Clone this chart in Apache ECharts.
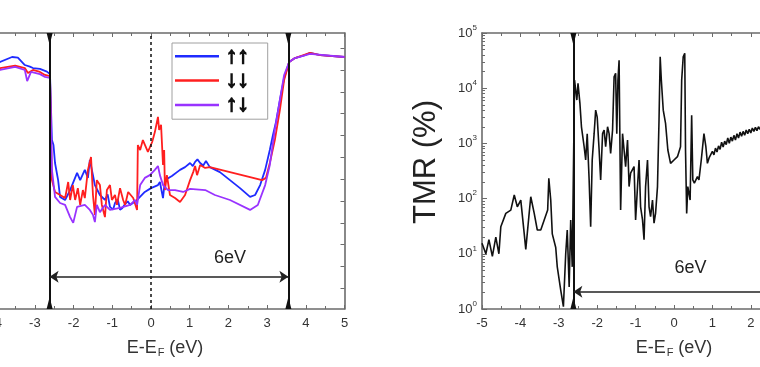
<!DOCTYPE html>
<html><head><meta charset="utf-8">
<script src="https://cdn.jsdelivr.net/npm/echarts@6/dist/echarts.min.js"></script>
<style>html,body{margin:0;padding:0;background:#fff}#c{width:760px;height:367px}</style>
</head><body><div id="c"></div>
<script>
const FF = 'Liberation Sans, Arial, sans-serif';
// ---------- Left panel: transmission (arbitrary vertical units, 0 = bottom, 100 = top) ----------
const seriesNames = ['↑↑', '↓↓', '↑↓'];
const seriesColors = ['#1f2bff', '#ff1f1f', '#9933ff'];
const transUpUp = [[-5.0,88.0],[-4.5,88.8],[-3.90,89.5],[-3.59,91.3],[-3.44,91.1],[-3.26,88.4],[-3.13,87.8],[-3.05,87.3],[-2.87,87.0],[-2.69,86.0],[-2.61,85.1],[-2.56,61.2],[-2.52,59.4],[-2.48,52.9],[-2.40,46.7],[-2.35,40.6],[-2.22,39.5],[-2.09,43.1],[-1.91,49.3],[-1.83,46.7],[-1.71,50.4],[-1.63,47.5],[-1.58,54.0],[-1.50,48.5],[-1.45,44.9],[-1.32,41.3],[-1.19,39.5],[-1.12,41.5],[-1.06,37.0],[-0.98,36.0],[-0.93,38.4],[-0.86,39.8],[-0.80,35.9],[-0.74,36.6],[-0.67,38.0],[-0.60,39.0],[-0.54,37.7],[-0.36,39.5],[-0.16,42.4],[0,43.8],[0.18,44.9],[0.23,46.0],[0.31,40.2],[0.36,46.7],[0.54,48.2],[0.75,50.4],[0.88,51.4],[1.01,52.9],[1.08,51.8],[1.14,53.3],[1.20,54.2],[1.27,52.9],[1.35,52.0],[1.42,53.6],[1.52,51.4],[1.78,49.6],[2.04,46.7],[2.30,43.8],[2.56,40.6],[2.69,41.3],[2.82,44.9],[2.95,50.4],[3.07,57.6],[3.15,63.0],[3.23,67.8],[3.33,75.7],[3.44,83.7],[3.57,89.5],[3.72,90.9],[3.98,92.0],[4.11,92.8],[4.37,92.0],[5.0,91.3]];
const transDownDown = [[-5.0,86.6],[-4.5,87.0],[-3.90,87.3],[-3.51,88.2],[-3.26,87.3],[-3.18,85.5],[-3.05,86.6],[-2.87,85.9],[-2.74,84.8],[-2.61,84.4],[-2.56,46.7],[-2.48,42.4],[-2.35,41.3],[-2.22,40.2],[-2.14,46.0],[-2.09,39.5],[-2.02,44.9],[-1.96,39.5],[-1.89,43.8],[-1.83,37.7],[-1.76,43.1],[-1.71,40.2],[-1.63,50.4],[-1.55,55.1],[-1.50,41.3],[-1.45,34.1],[-1.40,46.7],[-1.32,44.9],[-1.27,37.7],[-1.19,33.3],[-1.14,43.1],[-1.06,44.9],[-1.01,39.5],[-0.93,41.3],[-0.88,37.7],[-0.80,43.8],[-0.72,39.5],[-0.67,37.7],[-0.59,42.4],[-0.54,43.1],[-0.46,40.2],[-0.41,39.5],[-0.36,35.9],[-0.34,59.4],[-0.28,57.6],[-0.21,61.2],[-0.16,60.5],[-0.08,56.9],[0.03,60.5],[0.10,64.1],[0.18,69.6],[0.21,64.9],[0.26,66.7],[0.31,52.2],[0.34,57.6],[0.36,43.1],[0.41,48.5],[0.49,41.3],[0.62,40.2],[0.75,38.8],[0.88,41.3],[1.01,46.7],[1.09,49.6],[1.14,51.8],[1.19,48.5],[1.27,52.2],[1.40,51.1],[1.52,51.4],[2.04,49.6],[2.56,47.8],[2.87,46.7],[2.97,47.5],[3.07,52.9],[3.20,61.2],[3.33,72.1],[3.44,83.0],[3.57,89.5],[3.72,90.9],[4.11,92.8],[4.37,92.0],[5.0,91.3]];
const transUpDown = [[-5.0,85.9],[-4.5,86.2],[-3.90,86.6],[-3.51,87.7],[-3.26,86.6],[-3.20,82.6],[-3.10,85.9],[-2.87,85.1],[-2.74,84.1],[-2.61,83.7],[-2.56,50.4],[-2.48,40.6],[-2.35,38.4],[-2.22,37.7],[-2.09,33.3],[-2.01,31.2],[-1.91,37.0],[-1.71,37.7],[-1.58,35.9],[-1.50,34.1],[-1.45,31.5],[-1.40,37.7],[-1.32,35.1],[-1.19,37.7],[-1.06,35.9],[-0.80,36.6],[-0.54,37.7],[-0.41,39.5],[-0.36,37.7],[-0.28,44.9],[-0.16,47.5],[-0.03,48.5],[0.10,50.4],[0.18,51.8],[0.23,48.5],[0.31,44.9],[0.44,43.1],[0.62,43.1],[0.83,42.4],[1.01,43.5],[1.40,43.1],[1.65,41.3],[2.04,39.5],[2.56,35.9],[2.76,37.7],[2.95,44.9],[3.07,52.2],[3.20,64.9],[3.33,75.7],[3.44,84.8],[3.57,89.5],[3.72,90.9],[4.11,92.4],[5.0,91.3]];
const leftTickValues = [7.5,15.4,23.3,31.2,39.1,47.0,55.0,62.9,70.8,78.7,86.6,94.5];
// ---------- Right panel: TMR (%) ----------
const tmr = [[-5.0,15.5],[-4.90,10],[-4.82,18],[-4.73,9],[-4.64,20],[-4.56,10],[-4.51,31],[-4.38,54],[-4.25,62],[-4.16,116],[-4.08,71],[-3.99,94],[-3.90,23],[-3.86,12],[-3.78,47],[-3.73,108],[-3.64,54],[-3.56,27],[-3.47,27],[-3.38,41],[-3.29,62],[-3.26,233],[-3.21,94],[-3.17,23],[-3.08,13],[-3.04,5.8],[-2.95,2.2],[-2.88,1.1],[-2.82,10],[-2.78,27],[-2.73,2.5],[-2.69,41],[-2.65,5.8],[-2.59,14000],[-2.53,6100],[-2.50,12300],[-2.45,5300],[-2.41,2000],[-2.34,870],[-2.30,500],[-2.26,1500],[-2.21,218],[-2.17,31],[-2.13,500],[-2.08,1500],[-2.04,4000],[-2.00,3000],[-1.95,760],[-1.91,218],[-1.86,1500],[-1.82,1750],[-1.78,870],[-1.73,2000],[-1.69,1500],[-1.65,660],[-1.60,1750],[-1.56,16000],[-1.52,18600],[-1.49,1500],[-1.46,14000],[-1.43,32000],[-1.39,62],[-1.34,1500],[-1.30,760],[-1.26,380],[-1.21,1150],[-1.17,165],[-1.13,290],[-1.04,380],[-1.00,41],[-0.95,165],[-0.91,500],[-0.87,71],[-0.82,41],[-0.78,18],[-0.74,165],[-0.69,500],[-0.65,71],[-0.61,47],[-0.56,94],[-0.52,36],[-0.48,54],[-0.43,165],[-0.39,2650],[-0.36,37000],[-0.33,14000],[-0.28,4000],[-0.22,2300],[-0.16,760],[-0.09,435],[0.0,500],[0.09,575],[0.17,870],[0.20,14000],[0.24,37000],[0.28,43000],[0.30,760],[0.33,54],[0.36,165],[0.42,94],[0.46,3250],[0.49,218],[0.53,190],[0.61,250],[0.65,218],[0.71,500],[0.78,1500],[0.83,870],[0.87,435],[0.92,560],[0.96,575],[1.00,720],[1.04,620],[1.08,820],[1.12,700],[1.16,900],[1.20,780],[1.24,1050],[1.28,860],[1.32,1100],[1.36,950],[1.40,1250],[1.44,1000],[1.48,1300],[1.52,1100],[1.56,1400],[1.60,1150],[1.64,1500],[1.68,1250],[1.72,1600],[1.76,1350],[1.80,1650],[1.84,1400],[1.88,1750],[1.92,1500],[1.96,1800],[2.00,1550],[2.04,1900],[2.08,1650],[2.12,1950],[2.16,1700],[2.20,2000],[2.24,1800],[2.28,2100],[2.50,2200],[3.00,2500],[3.50,2800],[4.00,3000],[4.50,3100],[5.00,3200]];
const tmrMinorTicks = [2,3,4,5,6,7,8,9,20,30,40,50,60,70,80,90,200,300,400,500,600,700,800,900,2000,3000,4000,5000,6000,7000,8000,9000,20000,30000,40000,50000,60000,70000,80000,90000];
// ---------- Annotations ----------
const gapEdges = [-2.62, 3.55];
const fermiLevel = 0;
const gapLabel = '6eV';
const leftArrowY = 11.7, leftLabelPos = [2.04, 18.5];
const rightArrowY = 2.06, rightLabelPos = [0.43, 5.5];

const AX = '#6b6b6b';
function xAx(gi, pos, showLabel, nameOpt) {
  const o = {type:'value', gridIndex:gi, position:pos, min:-5, max:5, interval:1,
    axisLine:{show:true, onZero:false, lineStyle:{color:AX, width:1.6}},
    axisTick:{show:true, inside:true, length:4, lineStyle:{color:AX, width:1}},
    minorTick:{show:true, splitNumber:2, length:3, lineStyle:{color:AX, width:1}},
    splitLine:{show:false}, minorSplitLine:{show:false},
    axisLabel:{show:showLabel, fontSize:13, color:'#333', margin:8, fontFamily:FF}};
  if (nameOpt) Object.assign(o, nameOpt);
  return o;
}
const xName = (padLeft) => ({
  name:'{a|E-E}{f|F}{a| (eV)}', nameLocation:'middle', nameGap:30,
  nameTextStyle:{padding:[0,0,0,padLeft], rich:{a:{fontSize:18, fontFamily:FF, color:'#333'}, f:{fontSize:11, fontFamily:FF, color:'#333', padding:[8,0,0,1]}}}
});

const guideStyle = {color:'#111', width:2, type:'solid'};
function triangles(lo, hi) {
  const out = [];
  gapEdges.forEach(e => {
    out.push({coord:[e, lo], symbolRotate:0, symbolOffset:[0,-6]});
    out.push({coord:[e, hi], symbolRotate:180, symbolOffset:[0,6]});
  });
  return out;
}

const chart = echarts.init(document.getElementById('c'), null, {renderer:'canvas'});
chart.setOption({
  animation:false,
  textStyle:{fontFamily:FF},
  grid:[{left:-42.5, top:33, width:387, height:276, containLabel:false, outerBoundsMode:'none'},
        {left:482, top:33, width:384, height:276, containLabel:false, outerBoundsMode:'none'}],
  xAxis:[xAx(0,'bottom',true,xName(28)), xAx(0,'top',false), xAx(1,'bottom',true,xName(0)), xAx(1,'top',false)],
  yAxis:[
    {type:'value', gridIndex:0, position:'left', min:0, max:100, axisLine:{show:true, onZero:false, lineStyle:{color:AX, width:1.6}}, axisTick:{show:false}, axisLabel:{show:false}, splitLine:{show:false}},
    {type:'value', gridIndex:0, position:'right', min:0, max:100, axisLine:{show:true, onZero:false, lineStyle:{color:AX, width:1.6}},
      axisTick:{show:true, inside:true, length:4, customValues:leftTickValues, lineStyle:{color:AX}}, axisLabel:{show:false}, splitLine:{show:false}},
    {type:'log', logBase:10, gridIndex:1, position:'left', min:1, max:100000,
      axisLine:{show:true, onZero:false, lineStyle:{color:AX, width:1.6}},
      axisTick:{show:true, inside:true, length:5, lineStyle:{color:AX}},
      splitLine:{show:false},
      axisLabel:{margin:5, formatter:v => '{b|10}{s|' + Math.round(Math.log10(v)) + '}',
        rich:{b:{fontSize:13, color:'#333', fontFamily:FF}, s:{fontSize:8, color:'#333', fontFamily:FF, padding:[0,0,11,0]}}},
      name:'TMR (%)', nameLocation:'middle', nameGap:40,
      nameTextStyle:{fontSize:31, color:'#222', fontFamily:FF, padding:[0,0,0,18]}},
    {type:'log', logBase:10, gridIndex:1, position:'left', min:1, max:100000,
      axisLine:{show:false, onZero:false}, splitLine:{show:false}, axisLabel:{show:false},
      axisTick:{show:true, inside:true, length:3, customValues:tmrMinorTicks, lineStyle:{color:AX}}}
  ],
  legend:{data:seriesNames, orient:'vertical', left:172, top:43, padding:[1,18,2,3], icon:'rect',
    itemWidth:44, itemHeight:2.5, itemGap:0, borderColor:'#a0a0a0', borderWidth:1, backgroundColor:'#fff',
    textStyle:{fontFamily:FF, fontSize:23, fontWeight:'bold', color:'#111', lineHeight:18, padding:[0,0,0,2],
      textBorderColor:'#111', textBorderWidth:1.4}},
  series:[
    {name:seriesNames[0], type:'line', xAxisIndex:0, yAxisIndex:0, data:transUpUp, showSymbol:false, symbol:'none', lineStyle:{color:seriesColors[0], width:1.8}, itemStyle:{color:seriesColors[0]}},
    {name:seriesNames[1], type:'line', xAxisIndex:0, yAxisIndex:0, data:transDownDown, showSymbol:false, symbol:'none', lineStyle:{color:seriesColors[1], width:1.8}, itemStyle:{color:seriesColors[1]}},
    {name:seriesNames[2], type:'line', xAxisIndex:0, yAxisIndex:0, data:transUpDown, showSymbol:false, symbol:'none', lineStyle:{color:seriesColors[2], width:1.8}, itemStyle:{color:seriesColors[2]}},
    {name:'guidesL', type:'line', xAxisIndex:0, yAxisIndex:0, data:[], z:5,
      markLine:{silent:true, symbol:'none', label:{show:false}, animation:false,
        data:[
          {xAxis:gapEdges[0], lineStyle:guideStyle}, {xAxis:gapEdges[1], lineStyle:guideStyle},
          {xAxis:fermiLevel, lineStyle:{color:'#111', width:1.5, type:[3,3]}},
          [{coord:[gapEdges[0], leftArrowY], symbol:'arrow', symbolSize:9}, {coord:[gapEdges[1], leftArrowY], symbol:'arrow', symbolSize:9, lineStyle:{color:'#222', width:1.6, type:'solid'}}]
        ]},
      markPoint:{silent:true, symbol:'triangle', symbolSize:[6,12], itemStyle:{color:'#111'}, label:{show:false},
        data: triangles(0,100).concat([{coord:leftLabelPos, symbol:'circle', symbolSize:0, label:{show:true, position:'inside', formatter:gapLabel, fontSize:18, color:'#222', fontFamily:FF}}])}},
    {name:'TMR', type:'line', xAxisIndex:2, yAxisIndex:2, data:tmr, showSymbol:false, symbol:'none', lineStyle:{color:'#111', width:1.6}},
    {name:'guidesR', type:'line', xAxisIndex:2, yAxisIndex:2, data:[], z:5,
      markLine:{silent:true, symbol:'none', label:{show:false}, animation:false,
        data:[
          {xAxis:gapEdges[0], lineStyle:guideStyle}, {xAxis:gapEdges[1], lineStyle:guideStyle},
          [{coord:[gapEdges[0], rightArrowY], symbol:'arrow', symbolSize:9}, {coord:[gapEdges[1], rightArrowY], symbol:'arrow', symbolSize:9, lineStyle:{color:'#222', width:1.6, type:'solid'}}]
        ]},
      markPoint:{silent:true, symbol:'triangle', symbolSize:[6,12], itemStyle:{color:'#111'}, label:{show:false},
        data: triangles(1,100000).concat([{coord:rightLabelPos, symbol:'circle', symbolSize:0, label:{show:true, position:'inside', formatter:gapLabel, fontSize:18, color:'#222', fontFamily:FF}}])}}
  ]
});
</script></body></html>
